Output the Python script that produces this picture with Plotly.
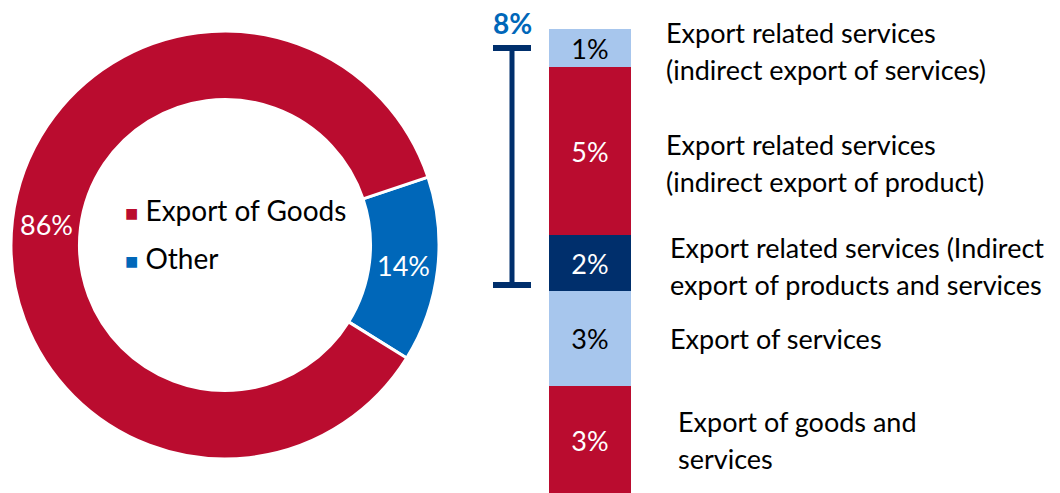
import plotly.graph_objects as go

# ---------------- data ----------------
pie_labels = ["Other", "Export of Goods"]
pie_values = [14, 86]

seg_names = [
    "Export of goods and services",
    "Export of services",
    "Export related services (Indirect export of products and services",
    "Export related services (indirect export of product)",
    "Export related services (indirect export of services)",
]
seg_values = [3.3, 2.85, 1.69, 5.08, 1.15]
seg_label_lines = [
    ["Export of goods and", "services"],
    ["Export of services"],
    ["Export related services (Indirect", "export of products and services"],
    ["Export related services", "(indirect export of product)"],
    ["Export related services", "(indirect export of services)"],
]
bracket_label = "8%"

# ---------------- style ----------------
RED = "#BA0C2F"
BLUE = "#0067B9"
NAVY = "#002F6C"
LIGHT = "#A7C6ED"
seg_colors = [RED, LIGHT, NAVY, RED, LIGHT]
seg_text_colors = ["white", "black", "white", "white", "black"]
FONT = "Lato"
W, H = 1060, 493

fig = go.Figure()

fig.add_trace(go.Pie(
    labels=pie_labels, values=pie_values, sort=False, direction="clockwise",
    rotation=71.5, hole=0.68,
    marker=dict(colors=[BLUE, RED], line=dict(color="white", width=3)),
    textinfo="percent", textposition="inside", insidetextorientation="horizontal",
    textfont=dict(family=FONT, size=27, color="white"),
    domain=dict(x=[11 / W, 439 / W], y=[34 / H, 462 / H]),
    showlegend=False,
))

for name, v, c, tc in zip(seg_names, seg_values, seg_colors, seg_text_colors):
    fig.add_trace(go.Bar(
        x=[0], y=[v], name=name, width=1,
        marker=dict(color=c, line=dict(width=0)),
        texttemplate="%{y:.0f}%", textposition="inside", insidetextanchor="middle",
        constraintext="none",
        textfont=dict(family=FONT, size=27, color=tc),
        showlegend=False, xaxis="x", yaxis="y",
    ))

total = sum(seg_values)
annotations = []

# legend inside the donut
for txt, col, ypx in [("Export of Goods", RED, 210), ("Other", BLUE, 258)]:
    annotations.append(dict(
        xref="paper", yref="paper", x=123 / W, y=(H - ypx) / H,
        xanchor="left", yanchor="middle", showarrow=False,
        text=f'<span style="color:{col};font-size:22px">■</span> {txt}',
        font=dict(family=FONT, size=28, color="black"),
    ))

# segment labels on the right
x_px = [676, 668, 668, 664, 664]
y_shift = [0, 0, -3, -12, -3]
line_gap = 37
cum = 0
for i, (v, lines) in enumerate(zip(seg_values, seg_label_lines)):
    center = cum + v / 2
    cum += v
    n = len(lines)
    for j, ln in enumerate(lines):
        off = ((n - 1) / 2 - j) * line_gap
        annotations.append(dict(
            xref="paper", yref="y", x=x_px[i] / W, y=center,
            xanchor="left", yanchor="middle", showarrow=False,
            yshift=off + y_shift[i], text=ln,
            font=dict(family=FONT, size=27, color="black"),
        ))

# bracket label
annotations.append(dict(
    xref="paper", yref="paper", x=512 / W, y=(H - 23) / H,
    xanchor="center", yanchor="middle", showarrow=False,
    text=f"<b>{bracket_label}</b>",
    font=dict(family=FONT, size=28, color=BLUE),
))

bx = 512 / W
cap = 19 / W
ytop = (H - 48) / H
ybot = (H - 285) / H
shapes = [
    dict(type="line", xref="paper", yref="paper", x0=bx, x1=bx, y0=ybot, y1=ytop,
         line=dict(color=NAVY, width=5)),
    dict(type="line", xref="paper", yref="paper", x0=bx - cap, x1=bx + cap, y0=ytop, y1=ytop,
         line=dict(color=NAVY, width=6)),
    dict(type="line", xref="paper", yref="paper", x0=bx - cap, x1=bx + cap, y0=ybot, y1=ybot,
         line=dict(color=NAVY, width=6)),
]

fig.update_layout(
    width=W, height=H, margin=dict(l=0, r=0, t=0, b=0),
    paper_bgcolor="white", plot_bgcolor="white",
    barmode="stack", bargap=0,
    xaxis=dict(domain=[549 / W, 631 / W], range=[-0.5, 0.5], visible=False, fixedrange=True),
    yaxis=dict(domain=[0, (H - 29) / H], range=[0.06, total], visible=False, fixedrange=True),
    annotations=annotations, shapes=shapes,
    font=dict(family=FONT),
)

fig.write_html("out.html", config={"displayModeBar": False},
               post_script="document.body.style.margin='0';document.body.style.overflow='hidden';")
